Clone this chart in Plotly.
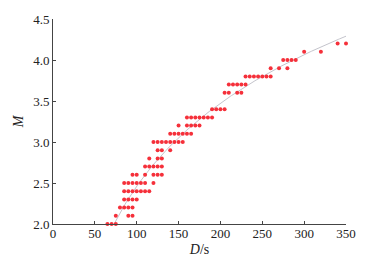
import numpy as np
import plotly.graph_objects as go

# Observed data: duration D (s) and magnitude M
M_levels = [2.0, 2.1, 2.2, 2.3, 2.4, 2.5, 2.6, 2.7, 2.8, 2.9, 3.0, 3.1, 3.2,
            3.3, 3.4, 3.6, 3.7, 3.8, 3.9, 4.0, 4.1, 4.2]
D_rows = [
    [65, 70, 75],
    [75, 90, 95],
    [80, 85, 90, 95],
    [85, 90, 95, 100],
    [85, 90, 95, 100, 105, 110, 115],
    [85, 90, 95, 100, 105, 110, 120],
    [95, 100, 110, 120, 125, 130],
    [110, 115, 120, 125, 130],
    [115, 125, 130],
    [125, 130, 140],
    [120, 125, 130, 135, 140, 145, 150, 155],
    [140, 145, 150, 155, 160, 165],
    [150, 160, 165, 170, 175],
    [160, 165, 170, 175, 180, 185, 190],
    [190, 195, 200, 205],
    [205, 210, 220, 225],
    [210, 215, 220, 225, 230],
    [230, 235, 240, 245, 250, 255, 260],
    [260, 270, 280],
    [275, 280, 285, 290],
    [300, 320],
    [340, 350],
]

# Fitted relation M = a*lg(D) + b
fit_a = 3.364
fit_b = -4.268
fit_D_start = 73
fit_D_end = 352

x_ticks = [0, 50, 100, 150, 200, 250, 300, 350]
y_ticks = [2.0, 2.5, 3.0, 3.5, 4.0, 4.5]

D_pts = [d for row in D_rows for d in row]
M_pts = [m for m, row in zip(M_levels, D_rows) for _ in row]

D_fit = np.linspace(fit_D_start, fit_D_end, 200)
M_fit = fit_a * np.log10(D_fit) + fit_b

font_family = "Liberation Serif"

fig = go.Figure()
fig.add_trace(go.Scatter(x=D_fit, y=M_fit, mode="lines",
                         line=dict(color="#c4c4cc", width=1),
                         hoverinfo="skip", showlegend=False, cliponaxis=False))
fig.add_trace(go.Scatter(x=D_pts, y=M_pts, mode="markers",
                         marker=dict(color="#f5303a", size=4, line=dict(width=0)),
                         showlegend=False, cliponaxis=False))

fig.update_layout(
    width=367, height=268,
    margin=dict(l=53, r=21, t=19, b=44, autoexpand=False),
    paper_bgcolor="white", plot_bgcolor="white",
    font=dict(family=font_family, size=13, color="#222"),
)
fig.update_xaxes(range=[0, 350], tickvals=x_ticks, showline=True, linecolor="#444",
                 linewidth=1, ticks="inside", ticklen=3, tickcolor="#444",
                 showgrid=False, zeroline=False, automargin=False,
                 ticklabelstandoff=-3,
                 title=dict(text="<i>D</i>/s", font=dict(size=14), standoff=4))
fig.update_yaxes(range=[2.0, 4.5], tickvals=y_ticks, tickformat=".1f", showline=True,
                 linecolor="#444", linewidth=1, ticks="inside", ticklen=3,
                 tickcolor="#444", showgrid=False, zeroline=False, automargin=False,
                 title=dict(text="<i>M</i>", font=dict(size=14), standoff=6))

fig.write_html("out.html", config={"displayModeBar": False},
               post_script="document.body.style.margin='0';window.dispatchEvent(new Event('resize'));")
